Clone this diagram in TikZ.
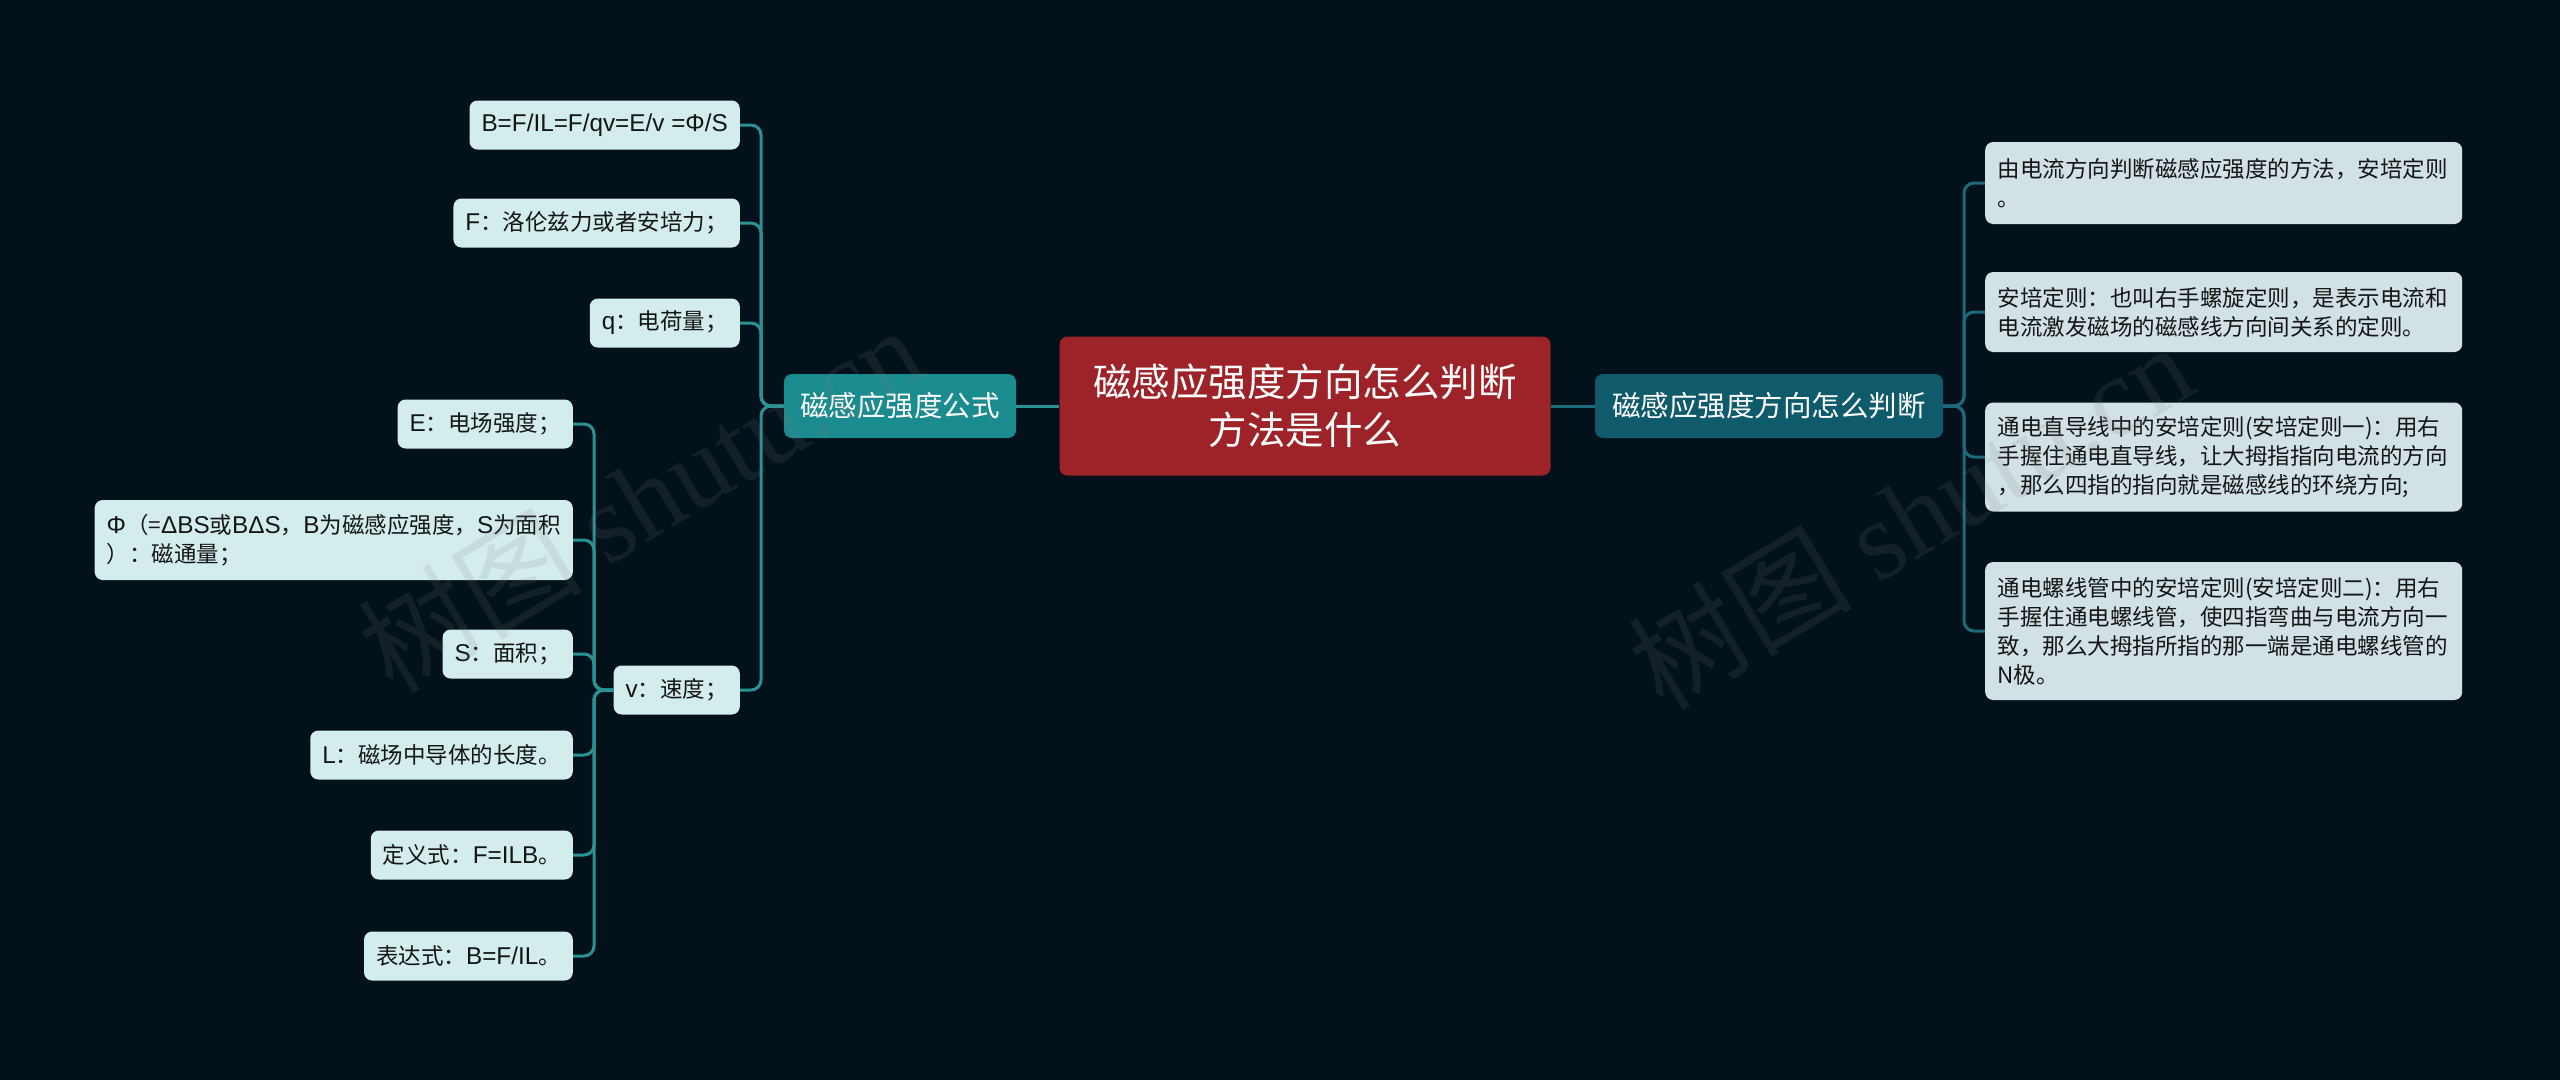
\documentclass[tikz,border=0pt]{standalone}
\usepackage{fontspec}
\setmainfont{Noto Sans CJK SC}
\newfontfamily\wmserif{Liberation Serif}
\newfontfamily\lat[Scale=1.08]{Liberation Sans}
\definecolor{bg}{HTML}{03111A}
\definecolor{rootred}{HTML}{9E2328}
\definecolor{lbcol}{HTML}{1A8B8E}
\definecolor{rbcol}{HTML}{0F5B6C}
\definecolor{leafl}{HTML}{D3ECEC}
\definecolor{leafr}{HTML}{D1E1E5}
\definecolor{leaftext}{HTML}{151515}
\definecolor{lineL}{HTML}{2A9194}
\definecolor{lineR}{HTML}{1C6A7B}
\begin{document}
\begin{tikzpicture}[x=1pt,y=-1pt,
  rootbox/.style={fill=rootred,rounded corners=8pt,minimum width=491pt,minimum height=139pt,text=white,align=center,font=\fontsize{38.5}{48}\selectfont,inner sep=0pt},
  branchbox/.style={rounded corners=8pt,minimum height=64pt,text=white,font=\fontsize{28.5}{34}\selectfont,inner xsep=16pt,inner ysep=0pt},
  leafl/.style={fill=leafl,rounded corners=8pt,inner xsep=12pt,inner ysep=0pt,minimum height=49pt,font=\fontsize{22.5}{29}\selectfont,text=leaftext,anchor=east,align=left},
  leafr/.style={fill=leafr,rounded corners=8pt,inner xsep=12.5pt,inner ysep=0pt,text width=452pt,align=left,font=\fontsize{22.5}{29}\selectfont,text=leaftext,anchor=west},
  connL/.style={draw=lineL,line width=3pt,rounded corners=10pt},
  connR/.style={draw=lineR,line width=3pt,rounded corners=10pt},
  wmark/.style={text=gray,opacity=0.14,rotate=31,font=\fontsize{112}{112}\selectfont}
]
\fill[bg] (0,0) rectangle (2560,1080);
\useasboundingbox (0,0) rectangle (2560,1080);

% junction coordinates
\coordinate (lj) at (761,406);
\coordinate (vj) at (594,690);
\coordinate (rj) at (1964,406);

% nodes
\node[rootbox] (root) at (1305,406) {磁感应强度方向怎么判断\\方法是什么};
\node[branchbox,fill=lbcol,minimum width=232pt] (lb) at (900,406) {磁感应强度公式};
\node[branchbox,fill=rbcol,minimum width=348pt] (rb) at (1769,406) {磁感应强度方向怎么判断};

\node[leafl] (l1) at (740,125) {\lat B=F/IL=F/qv=E/v =Φ/S};
\node[leafl] (l2) at (740,223) {{\lat F}：洛伦兹力或者安培力；};
\node[leafl] (l3) at (740,323) {{\lat q}：电荷量；};
\node[leafl] (lv) at (740,690) {{\lat v}：速度；};

\node[leafl] (v1) at (573,424) {{\lat E}：电场强度；};
\node[leafl,minimum height=80pt] (v2) at (573,540) {{\lat Φ}（={\lat ΔBS}或{\lat BΔS}，{\lat B}为磁感应强度，{\lat S}为面积\\）：磁通量；};
\node[leafl] (v3) at (573,654) {{\lat S}：面积；};
\node[leafl] (v4) at (573,755) {{\lat L}：磁场中导体的长度。};
\node[leafl] (v5) at (573,855) {定义式：{\lat F=ILB}。};
\node[leafl] (v6) at (573,956) {表达式：{\lat B=F/IL}。};

\node[leafr,minimum height=82pt] (r1) at (1985,183) {由电流方向判断磁感应强度的方法，安培定则\\。};
\node[leafr,minimum height=80pt] (r2) at (1985,312) {安培定则：也叫右手螺旋定则，是表示电流和\\电流激发磁场的磁感线方向间关系的定则。};
\node[leafr,minimum height=109pt] (r3) at (1985,457) {通电直导线中的安培定则(安培定则一)：用右\\手握住通电直导线，让大拇指指向电流的方向\\，那么四指的指向就是磁感线的环绕方向;};
\node[leafr,minimum height=138pt] (r4) at (1985,631) {通电螺线管中的安培定则(安培定则二)：用右\\手握住通电螺线管，使四指弯曲与电流方向一\\致，那么大拇指所指的那一端是通电螺线管的\\N极。};

% connectors
\draw[connL] (root.west) -- (lb.east);
\draw[connR] (root.east) -- (rb.west);
\foreach \n in {l1,l2,l3,lv} \draw[connL] (lb.west) -- (lj) |- (\n.east);
\foreach \n in {v1,v2,v3,v4,v5,v6} \draw[connL] (lv.west) -- (vj) |- (\n.east);
\foreach \n in {r1,r2,r3,r4} \draw[connR] (rb.east) -- (rj) |- (\n.west);

% watermarks
\node[wmark] (wm1) at (640,498) {树图 {\wmserif shutu.cn}};
\node[wmark] (wm2) at (1910,515) {树图 {\wmserif shutu.cn}};
\end{tikzpicture}
\end{document}
